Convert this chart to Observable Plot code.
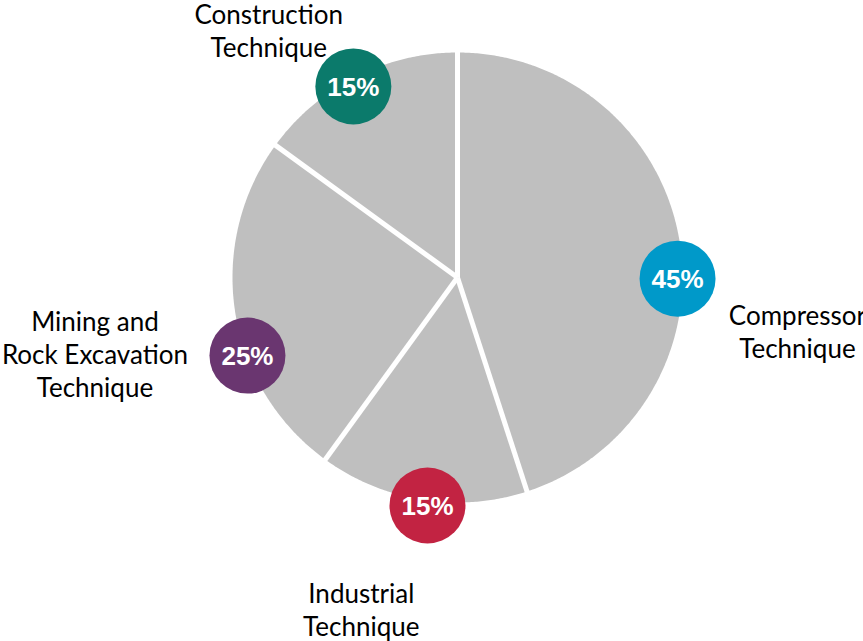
<!DOCTYPE html>
<html>
<head>
<meta charset="utf-8">
<script src="https://cdn.jsdelivr.net/npm/d3@7"></script>
<script src="https://cdn.jsdelivr.net/npm/@observablehq/plot@0.6"></script>
<style>
  html, body { margin: 0; padding: 0; background: #ffffff; overflow: hidden; }
  #chart svg { display: block; }
</style>
</head>
<body>
<div id="chart"></div>
<script>
// ---- data ----
const categories = ["Compressor Technique", "Industrial Technique", "Mining and Rock Excavation Technique", "Construction Technique"];
const shares = [45, 15, 25, 15];
const colors = ["#0099c9", "#c22342", "#6a3670", "#0b7a6b"];
const labelLines = ["Compressor\nTechnique", "Industrial\nTechnique", "Mining and\nRock Excavation\nTechnique", "Construction\nTechnique"];

// ---- layout (bubble & label placement around the pie, bearings in degrees clockwise from top) ----
const bubbleBearing = [90.3, 187.5, 249.6, 331.4];
const bubbleRadius = [0.978, 1.022, 0.996, 0.967];
const labelBearing = [99.3, 196.1, 257.9, 322.5];
const labelRadius = [1.531, 1.542, 1.648, 1.378];

const W = 863, H = 641, R = 225, CX = 457, CY = 277;
const rad = d => d * Math.PI / 180;

const total = d3.sum(shares);
let acc = 0;
const slices = shares.map((v, i) => {
  const a0 = acc / total * 360;
  acc += v;
  const a1 = acc / total * 360;
  return {cat: categories[i], a0, a1};
});

// polygon points for each slice
const slicePts = [];
for (const s of slices) {
  slicePts.push({cat: s.cat, x: 0, y: 0});
  const n = Math.max(2, Math.ceil((s.a1 - s.a0) / 0.5));
  for (let k = 0; k <= n; k++) {
    const a = rad(s.a0 + (s.a1 - s.a0) * k / n);
    slicePts.push({cat: s.cat, x: Math.sin(a), y: Math.cos(a)});
  }
  slicePts.push({cat: s.cat, x: 0, y: 0});
}

const boundaries = slices.map(s => ({x2: Math.sin(rad(s.a0)) * 1.02, y2: Math.cos(rad(s.a0)) * 1.02}));

const bubbles = categories.map((c, i) => ({
  cat: c,
  pct: shares[i] + "%",
  color: colors[i],
  x: Math.sin(rad(bubbleBearing[i])) * bubbleRadius[i],
  y: Math.cos(rad(bubbleBearing[i])) * bubbleRadius[i]
}));

const labels = categories.map((c, i) => ({
  text: labelLines[i],
  x: Math.sin(rad(labelBearing[i])) * labelRadius[i],
  y: Math.cos(rad(labelBearing[i])) * labelRadius[i]
}));

const chart = Plot.plot({
  width: W,
  height: H,
  margin: 0,
  x: {domain: [-CX / R, (W - CX) / R], axis: null},
  y: {domain: [-(H - CY) / R, CY / R], axis: null},
  style: {background: "#ffffff", overflow: "visible"},
  marks: [
    Plot.line(slicePts, {x: "x", y: "y", z: "cat", fill: "#bfbfbf", stroke: "none", curve: "linear"}),
    Plot.link(boundaries, {x1: 0, y1: 0, x2: "x2", y2: "y2", stroke: "#ffffff", strokeWidth: 5, strokeLinecap: "butt"}),
    Plot.dot(bubbles, {x: "x", y: "y", r: 38, fill: "color", stroke: "none"}),
    Plot.text(bubbles, {x: "x", y: "y", text: "pct", fill: "#ffffff", fontSize: 26, fontWeight: "bold", fontFamily: "Liberation Sans, Arial, sans-serif", dy: 1}),
    Plot.text(labels, {x: "x", y: "y", text: "text", fill: "#000000", fontSize: 26, lineHeight: 1.27, lineAnchor: "middle", dy: -2, fontFamily: "Lato, sans-serif"})
  ]
});
document.getElementById("chart").appendChild(chart);
</script>
</body>
</html>
